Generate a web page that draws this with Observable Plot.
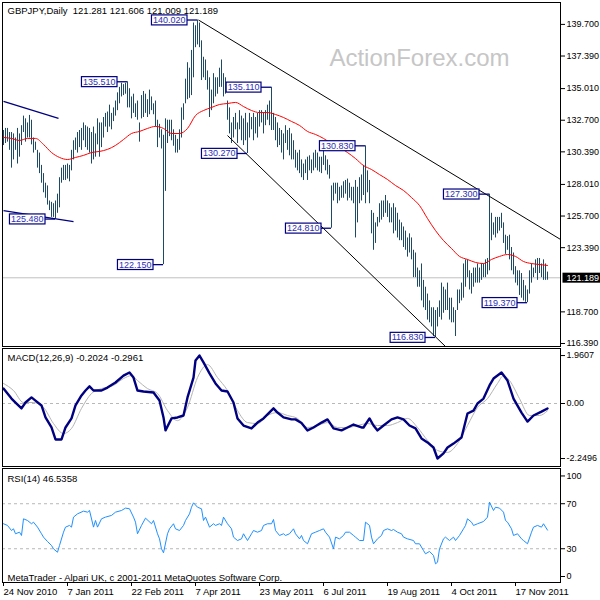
<!DOCTYPE html>
<html><head><meta charset="utf-8">
<script src="https://cdn.jsdelivr.net/npm/d3@7"></script>
<script src="https://cdn.jsdelivr.net/npm/@observablehq/plot@0.6"></script>
<style>
html,body{margin:0;padding:0;background:#fff;}
#wrap{position:relative;width:600px;height:600px;overflow:hidden;background:#fff;}
</style></head><body><div id="wrap"></div>
<script>
// ---------- DATA ----------
const symbol = "GBPJPY,Daily";
const ohlcLast = [121.281, 121.606, 121.009, 121.189];
const highs = [
131.95,132.10,132.10,131.80,131.80,131.70,131.40,132.10,131.70,132.30,
133.00,132.80,132.50,133.05,132.70,131.40,131.10,130.50,130.30,129.40,
128.80,128.10,127.90,126.80,126.70,126.60,126.80,127.30,128.50,129.20,
129.40,129.40,129.50,129.40,130.50,131.20,131.40,131.80,131.95,132.10,
132.50,132.30,132.20,132.10,131.80,132.20,131.70,132.80,132.50,132.50,
132.90,133.20,133.30,133.80,133.20,133.60,134.10,134.70,135.10,135.40,
135.30,135.40,135.51,135.00,134.40,134.60,133.90,134.10,132.50,134.50,
134.80,134.60,134.20,134.90,134.40,133.90,134.10,132.70,132.40,132.00,
131.60,132.80,132.70,132.70,132.70,132.00,131.60,131.30,132.00,133.60,
133.90,135.70,136.90,136.50,137.80,139.80,139.60,140.02,139.80,138.50,
137.30,137.10,136.30,135.80,134.90,136.10,135.80,135.80,136.50,137.10,
136.10,135.80,134.10,133.60,132.50,132.90,133.20,132.50,133.40,133.00,
132.80,133.20,132.50,
133.20,132.90,133.20,132.90,133.20,133.40,133.40,133.20,133.40,133.80,134.10,135.11,
133.20,132.90,132.50,132.10,131.95,131.70,132.30,131.95,132.10,131.70,131.20,130.50,130.30,130.50,129.80,
129.50,129.80,130.00,130.10,129.80,130.30,130.50,130.30,130.00,130.00,130.50,130.10,129.80,129.40,127.90,
128.10,128.10,128.10,127.80,127.90,128.20,128.30,128.40,128.10,127.80,127.80,128.30,127.80,128.50,128.70,129.40,130.83,
129.00,128.30,126.10,125.90,125.20,125.60,126.60,126.80,126.80,127.20,126.80,126.60,126.30,126.60,126.30,125.90,125.40,
125.20,124.90,124.60,124.10,124.40,124.10,123.20,123.00,121.90,121.70,122.20,121.00,120.50,120.00,119.50,119.00,119.00,118.80,
119.00,119.50,120.80,120.50,120.30,120.80,119.70,119.70,119.00,118.80,120.30,120.30,120.80,122.20,122.50,122.50,121.70,121.50,121.90,121.90,122.20,121.90,122.20,122.20,122.50,122.60,127.30,
125.90,125.20,125.60,125.60,125.60,125.90,125.20,124.30,124.20,124.30,123.40,123.00,122.00,121.70,121.70,121.50,121.00,120.60,120.30,
121.70,122.20,121.90,122.50,122.60,122.60,122.20,122.50,122.20,121.606];
const lows = [
130.85,131.00,131.10,130.50,129.20,129.80,130.50,129.50,130.00,130.85,
131.80,131.10,131.40,131.40,130.90,130.30,130.50,129.20,128.80,128.10,
127.40,127.00,126.50,126.10,125.60,125.60,125.48,125.90,126.30,128.10,
128.30,128.30,128.40,128.20,129.00,129.80,130.50,130.30,130.70,130.50,
131.20,130.70,130.50,130.30,129.50,129.80,130.00,130.90,130.00,130.70,
131.40,132.20,131.80,132.20,132.00,132.60,133.00,133.40,133.90,134.40,
134.50,134.60,133.60,133.60,132.80,133.20,132.90,132.70,131.10,132.80,
132.90,133.20,132.90,133.10,133.40,133.10,132.20,130.70,131.40,130.60,
122.15,127.50,131.00,131.50,131.20,130.80,130.30,130.30,130.50,131.40,
132.70,133.90,134.20,134.30,134.50,135.80,138.00,138.20,138.00,135.60,
135.80,135.60,134.90,132.90,133.40,133.90,134.40,134.60,135.10,135.10,
134.40,134.60,132.70,131.70,131.00,131.40,132.00,131.00,132.00,131.20,
130.85,131.20,130.27,
131.40,132.00,131.20,131.70,131.40,132.20,132.50,131.70,132.30,132.70,132.30,131.95,
131.95,131.20,130.70,130.85,130.30,129.80,131.00,130.50,130.10,129.80,129.80,129.20,129.00,128.80,128.50,
128.30,128.80,128.30,129.00,128.80,129.00,129.20,129.00,128.90,128.80,129.40,129.00,128.70,128.40,124.81,
126.80,127.30,126.60,126.80,127.00,127.00,127.30,126.80,127.00,126.80,126.60,124.10,125.20,126.60,126.80,127.20,126.60,
127.40,126.60,124.40,123.20,123.70,124.90,125.20,125.40,125.60,125.90,125.60,125.20,125.20,124.40,124.60,124.10,123.90,
123.90,123.40,123.20,122.70,123.00,122.50,121.20,121.20,120.50,120.50,119.50,119.00,118.80,118.10,117.90,117.60,116.90,116.83,
117.60,118.30,118.10,118.60,118.80,118.80,118.10,117.90,117.90,116.90,118.80,119.30,119.50,119.70,120.50,121.20,120.30,120.00,120.50,120.80,120.80,120.80,121.00,121.20,121.20,121.40,121.70,
123.90,124.30,124.10,124.40,124.60,124.80,123.70,122.90,123.20,122.50,121.70,121.40,120.80,120.60,119.90,119.70,119.50,119.40,119.37,
120.00,120.80,121.20,121.50,121.00,121.50,121.20,121.00,121.00,121.009];
// moving average [bar, value]
const maLine = [[0,131.44],[4,131.37],[8,131.22],[12,131.37],[16,131.37],[20,130.93],[24,130.34],[28,129.98],[32,129.83],[36,129.98],[40,130.13],[44,130.34],[48,130.42],[52,130.57],[56,130.86],[60,131.29],[64,131.73],[68,131.88],[72,132.10],[76,132.25],[80,132.10],[84,131.73],[88,131.73],[92,132.10],[96,133.04],[100,133.41],[104,133.63],[108,133.85],[112,133.92],[116,134.00],[120,133.70],[124,133.41],[128,133.26],[132,133.26],[136,133.12],[140,132.90],[144,132.61],[148,132.32],[152,131.88],[156,131.66],[160,131.37],[164,131.00],[168,130.71],[172,130.34],[176,129.90],[180,129.39],[184,129.10],[188,128.73],[192,128.37],[196,127.93],[200,127.57],[204,127.05],[208,126.47],[212,125.52],[216,124.64],[220,123.91],[224,123.33],[228,122.75],[232,122.53],[236,122.31],[240,122.23],[244,122.53],[248,122.75],[252,122.89],[256,122.75],[260,122.38],[264,122.23],[268,122.16],[272,122.09]];
// pivot labels
const pivotIdx   = [97, 62, 134, 122, 26, 80, 181, 164, 243, 216, 262];
const pivotPrice = [140.020, 135.510, 135.110, 130.270, 125.480, 122.150, 130.830, 124.810, 127.300, 116.830, 119.370];
// trend lines [bar1, price1, bar2, price2]
const blackTrend = [[97.5,140.02,278.5,123.99],[112,131.58,221,116.17]];
const navyTrend  = [[0,134.07,27.5,132.83],[0,126.10,35,125.30]];
const priceTicks = [139.700, 137.390, 135.010, 132.700, 130.390, 128.010, 125.700, 123.390, 118.700, 116.390];
// MACD
const macdTitle = "MACD(12,26,9) -0.2024 -0.2961";
const macdTicks = [1.9607, 0, -2.2496];
const macdTickLabels = ["1.9607", "0.00", "-2.2496"];
const macdMain = [[0,0.61],[4,0.20],[6,0.04],[9,-0.2],[11,0.04],[14,0.25],[16,0.12],[19,-0.08],[21,-0.57],[24,-0.98],[26,-1.47],[29,-1.47],[31,-0.98],[34,-0.61],[36,-0.08],[39,0.33],[41,0.53],[43,0.70],[45,0.53],[49,0.53],[52,0.65],[56,0.86],[60,1.14],[63,1.27],[65,1.06],[67,0.53],[70,0.49],[75,0.45],[78,0.12],[80,-0.57],[81,-1.10],[84,-0.61],[87,-0.57],[90,-0.49],[92,0.25],[95,1.06],[96,1.76],[98,1.9607],[100,1.68],[103,1.23],[106,0.82],[109,0.53],[112,0.49],[115,0.04],[117,-0.61],[120,-0.90],[124,-1.02],[127,-0.78],[130,-0.61],[135,-0.2],[137,-0.37],[140,-0.57],[144,-0.65],[146,-0.65],[149,-0.80],[152,-1.10],[155,-0.98],[159,-0.78],[162,-0.65],[165,-1.02],[169,-1.10],[172,-0.98],[175,-0.86],[179,-0.98],[180,-0.98],[183,-0.61],[185,-0.90],[187,-1.10],[190,-0.90],[194,-0.65],[197,-0.57],[200,-0.65],[203,-0.90],[206,-1.02],[209,-1.43],[212,-1.59],[215,-1.80],[217,-2.2496],[220,-2.04],[222,-1.80],[225,-1.64],[229,-1.39],[232,-0.41],[235,-0.29],[237,0.0],[240,0.20],[243,0.74],[245,1.02],[249,1.27],[252,0.94],[255,0.20],[259,-0.37],[262,-0.74],[265,-0.49],[269,-0.33],[272,-0.2024]];
const macdSignal = [[0,0.82],[5,0.53],[10,0.04],[15,0.04],[20,-0.16],[25,-0.82],[30,-1.23],[34,-1.02],[39,-0.2],[44,0.41],[49,0.61],[55,0.74],[60,1.02],[64,1.14],[67,0.94],[72,0.61],[77,0.41],[82,-0.29],[87,-0.70],[92,-0.16],[97,1.06],[102,1.59],[107,1.06],[112,0.53],[117,-0.29],[122,-0.78],[127,-0.82],[132,-0.49],[137,-0.37],[142,-0.49],[147,-0.61],[152,-0.98],[157,-0.90],[162,-0.78],[167,-0.98],[172,-0.98],[177,-0.90],[182,-0.82],[187,-0.90],[192,-0.90],[197,-0.78],[202,-0.61],[207,-0.98],[212,-1.51],[217,-1.92],[222,-2.0],[227,-1.64],[232,-0.90],[237,-0.16],[242,0.2],[247,0.82],[250,1.14],[253,0.94],[258,0.2],[263,-0.49],[268,-0.49],[272,-0.2961]];
// RSI
const rsiTitle = "RSI(14) 46.5358";
const rsiLine = [[0,52.2],[2,50.7],[4,46.2],[5,47.7],[6,43.3],[8,44.7],[9,41.8],[10,56.6],[12,55.1],[14,52.2],[15,53.6],[17,49.2],[19,43.3],[20,40.3],[22,36.4],[24,32.9],[25,29.9],[27,26.9],[28,32.9],[30,44.7],[31,49.2],[33,50.7],[34,49.2],[35,58.1],[37,61.0],[40,63.4],[42,62.5],[43,64.0],[45,49.2],[46,55.1],[47,49.2],[49,56.6],[51,58.1],[54,59.6],[56,62.5],[59,64.0],[61,66.1],[63,65.5],[65,58.1],[66,53.6],[67,43.3],[69,50.7],[71,57.2],[74,52.2],[75,55.1],[77,43.3],[78,38.8],[79,29.9],[80,26.4],[82,43.3],[83,47.7],[85,52.2],[86,47.7],[88,46.2],[90,50.7],[91,55.1],[93,61.0],[94,66.9],[95,70.8],[97,66.9],[99,65.5],[100,55.1],[101,58.1],[103,49.2],[105,52.2],[106,50.7],[108,52.2],[109,50.7],[110,58.1],[112,52.2],[114,47.7],[115,40.3],[117,37.3],[119,38.8],[120,43.3],[122,37.3],[124,43.3],[125,46.2],[127,44.7],[129,46.2],[130,50.7],[132,52.2],[134,52.2],[135,56.0],[136,46.2],[138,41.8],[140,43.3],[141,41.8],[143,43.3],[145,47.7],[146,43.3],[148,38.8],[149,41.8],[150,37.3],[152,34.4],[154,43.3],[156,44.7],[158,46.2],[160,47.7],[161,44.7],[163,40.3],[165,29.9],[166,40.3],[168,38.8],[170,41.8],[171,44.7],[173,44.7],[175,41.8],[176,40.3],[178,37.3],[180,37.3],[181,53.6],[183,50.7],[184,40.3],[185,34.4],[187,38.8],[189,41.8],[190,46.2],[192,47.7],[194,46.2],[195,47.1],[197,44.7],[199,43.3],[200,40.3],[202,38.8],[205,37.3],[206,34.4],[208,34.4],[210,28.4],[211,25.5],[213,27.6],[215,24.0],[216,16.6],[217,18.0],[218,29.9],[220,38.8],[221,40.3],[223,37.3],[225,40.3],[226,37.3],[228,41.8],[230,47.7],[231,50.7],[232,56.6],[234,53.6],[235,50.7],[237,52.2],[240,54.2],[242,58.1],[243,71.4],[245,64.0],[246,66.9],[248,66.1],[250,62.5],[251,55.1],[252,53.6],[254,47.7],[255,41.8],[257,43.3],[259,38.8],[260,37.3],[262,34.4],[264,44.7],[265,49.2],[267,50.7],[269,49.2],[270,52.2],[272,46.5358]];
const rsiLevels = [30, 70];
const copyright = "MetaTrader - Alpari UK, c 2001-2011 MetaQuotes Software Corp.";
// time axis
const dateTickIdx = [0, 32, 64, 96, 128, 160, 192, 224, 256];
const dateTickLabels = ["24 Nov 2010","7 Jan 2011","22 Feb 2011","7 Apr 2011","23 May 2011","6 Jul 2011","19 Aug 2011","4 Oct 2011","17 Nov 2011"];
const watermark = "ActionForex.com";

// ---------- RENDER ----------
const FONT = "'Liberation Sans', Arial, sans-serif";
const xDomain = [-0.5, 278.5];
const bars = highs.map((h, i) => ({i, h, l: lows[i]}));
const pivots = pivotIdx.map((i, k) => ({i, p: pivotPrice[k]}));
const lastClose = ohlcLast[3];
const headline = symbol + "\u00a0\u00a0" + ohlcLast.map(d => d.toFixed(3)).join(" ");
const dateLabelOf = new Map(dateTickIdx.map((d, k) => [d, dateTickLabels[k]]));
const macdLabelOf = new Map(macdTicks.map((d, k) => [d, macdTickLabels[k]]));
const wrap = document.getElementById("wrap");
const baseStyle = {background: "transparent", fontFamily: FONT, fontSize: "9px", color: "black", overflow: "visible"};
const common = {width: 600, marginLeft: 2, marginRight: 40, x: {domain: xDomain, axis: null}};

function place(svg, top) {
  svg.style.position = "absolute";
  svg.style.left = "0px";
  svg.style.top = top + "px";
  wrap.append(svg);
  return svg;
}
function boxify(svg, index, fill, stroke, sw, padL, padR, padY) {
  const g = svg.querySelectorAll('g[aria-label="text"]')[index];
  if (!g) return;
  g.querySelectorAll("text").forEach(t => {
    const b = t.getBBox();
    const r = document.createElementNS("http://www.w3.org/2000/svg", "rect");
    r.setAttribute("x", b.x - padL);
    r.setAttribute("y", b.y - padY);
    r.setAttribute("width", b.width + padL + padR);
    r.setAttribute("height", b.height + 2 * padY);
    const tr = t.getAttribute("transform");
    if (tr) r.setAttribute("transform", tr);
    r.setAttribute("fill", fill);
    r.setAttribute("stroke", stroke);
    r.setAttribute("stroke-width", sw);
    g.insertBefore(r, t);
  });
}

// Main price panel
const p1 = Plot.plot({
  ...common, height: 348, marginTop: 2, marginBottom: 2,
  y: {domain: [116.17, 141.30], axis: null},
  style: baseStyle,
  marks: [
    Plot.text([watermark], {text: d => d, frameAnchor: "top-right", textAnchor: "end", lineAnchor: "top", dx: -51, dy: 46, fontSize: 24, fill: "#c6c6c6"}),
    Plot.ruleY([lastClose], {stroke: "#c0c0c0"}),
    Plot.ruleX(bars, {x: "i", y1: "l", y2: "h", stroke: "#1d4a66", strokeWidth: 1}),
    Plot.line(maLine, {x: d => d[0], y: d => d[1], stroke: "#ff0000", strokeWidth: 1, curve: "monotone-x"}),
    Plot.link(blackTrend, {x1: d => d[0], y1: d => d[1], x2: d => d[2], y2: d => d[3], stroke: "black", strokeWidth: 1}),
    Plot.link(navyTrend, {x1: d => d[0], y1: d => d[1], x2: d => d[2], y2: d => d[3], stroke: "#000080", strokeWidth: 1.3}),
    Plot.ruleY(pivots, {y: "p", x1: d => d.i - 5, x2: "i", stroke: "#000080", strokeWidth: 1.3}),
    Plot.text(pivots, {x: d => d.i - 5, y: "p", text: d => d.p.toFixed(3), textAnchor: "end", dx: -2, fill: "#2e2eb4", fontSize: 9}),
    Plot.text([headline], {text: d => d, frameAnchor: "top-left", textAnchor: "start", lineAnchor: "top", dx: 5, dy: 4.5, fontSize: 9.5, fill: "black"}),
    Plot.axisY(priceTicks, {anchor: "right", tickSize: 4, tickPadding: 2, tickFormat: d3.format(".3f"), label: null, fontSize: 9}),
    Plot.frame({stroke: "black"}),
    Plot.text([lastClose], {y: d => d, text: d => d.toFixed(3), frameAnchor: "right", textAnchor: "start", dx: 6, fill: "white", fontSize: 9})
  ]
});
place(p1, 0);
boxify(p1, 1, "white", "#000080", 1.2, 1.5, 1.5, 0);
boxify(p1, 3, "black", "black", 0, 4, 10, 0);

// MACD panel
const p2 = Plot.plot({
  ...common, height: 122, marginTop: 2, marginBottom: 2,
  y: {domain: [-2.576, 2.249], axis: null},
  style: baseStyle,
  marks: [
    Plot.ruleY([0], {stroke: "#b8b8b8", strokeDasharray: "3,3"}),
    Plot.line(macdSignal, {x: d => d[0], y: d => d[1], stroke: "#b4b4b4", strokeWidth: 1, curve: "monotone-x"}),
    Plot.line(macdMain, {x: d => d[0], y: d => d[1], stroke: "#000080", strokeWidth: 2.4}),
    Plot.text([macdTitle], {text: d => d, frameAnchor: "top-left", textAnchor: "start", lineAnchor: "top", dx: 5, dy: 6, fontSize: 9.5, fill: "black"}),
    Plot.axisY(macdTicks, {anchor: "right", tickSize: 4, tickPadding: 2, tickFormat: d => macdLabelOf.get(d), label: null, fontSize: 9}),
    Plot.frame({stroke: "black"})
  ]
});
place(p2, 346);

// RSI panel
const p3 = Plot.plot({
  ...common, height: 134, marginTop: 2, marginBottom: 18,
  y: {domain: [0, 101.3], axis: null},
  style: baseStyle,
  marks: [
    Plot.ruleY(rsiLevels, {stroke: "#b8b8b8", strokeDasharray: "3,3"}),
    Plot.line(rsiLine, {x: d => d[0], y: d => d[1], stroke: "#1e90ff", strokeWidth: 1}),
    Plot.text([rsiTitle], {text: d => d, frameAnchor: "top-left", textAnchor: "start", lineAnchor: "top", dx: 5, dy: 7, fontSize: 9.5, fill: "black"}),
    Plot.text([copyright], {text: d => d, frameAnchor: "bottom-left", textAnchor: "start", lineAnchor: "bottom", dx: 5, dy: -2, fontSize: 9.5, fill: "black"}),
    Plot.axisY(rsiLevels, {anchor: "right", tickSize: 4, tickPadding: 2, label: null, fontSize: 9}),
    Plot.axisY([100], {anchor: "right", tickSize: 4, tickPadding: 2, label: null, fontSize: 9, dy: 6}),
    Plot.axisY([0], {anchor: "right", tickSize: 4, tickPadding: 2, label: null, fontSize: 9, dy: -6}),
    Plot.axisX(dateTickIdx, {anchor: "bottom", tickSize: 4, tickPadding: 2, tickFormat: d => dateLabelOf.get(d), textAnchor: "start", label: null, fontSize: 9.5}),
    Plot.frame({stroke: "black"})
  ]
});
place(p3, 466);
</script>
</body></html>
